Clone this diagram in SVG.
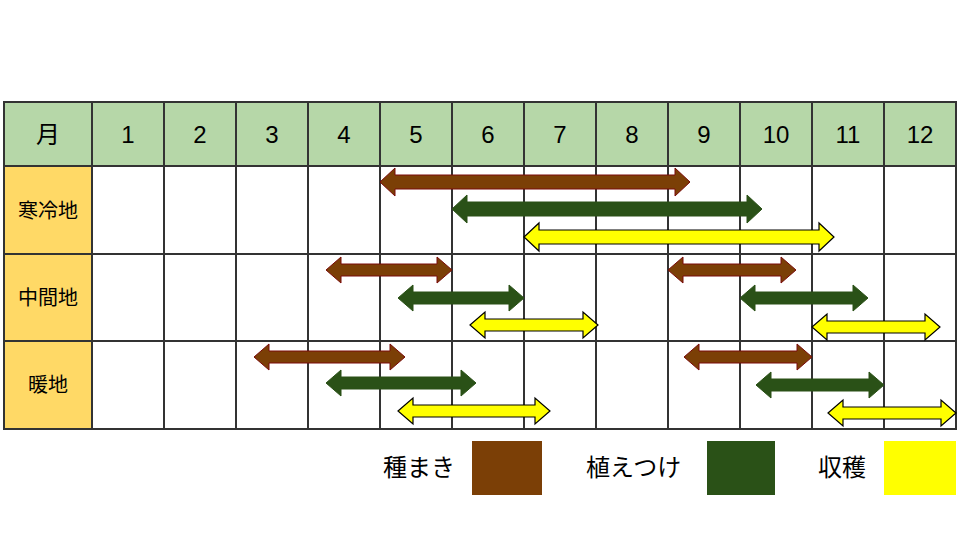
<svg xmlns="http://www.w3.org/2000/svg" width="960" height="540" viewBox="0 0 960 540">
<style>
text{font-family:"Liberation Sans","Noto Sans CJK JP",sans-serif;fill:#000}
.h{font-size:24px;text-anchor:middle}
.r{font-size:20px;text-anchor:middle}
.l{font-size:24px}
.g{stroke:#333;stroke-width:2;fill:none}
.b{fill:#7b3f06;stroke:#7a0a0a;stroke-width:1}
.gr{fill:#2a5117;stroke:#2a5117;stroke-width:1}
.y{fill:#ffff00;stroke:#000;stroke-width:1.2}
</style>
<defs>
<path id="a" d="M0,0 L15,-14 L15,-7 L-15,-7 Z"/>
</defs>
<g id="table">
<rect x="4" y="102" width="952" height="64" fill="#b6d7a8"/>
<rect x="4" y="166" width="88" height="263" fill="#ffd966"/>
<rect x="92" y="166" width="864" height="263" fill="#fff"/>
<path class="g" d="M4,102H956V429H4Z M4,166H956 M4,254H956 M4,341H956 M92,102V429 M164,102V429 M236,102V429 M308,102V429 M380,102V429 M452,102V429 M524,102V429 M596,102V429 M668,102V429 M740,102V429 M812,102V429 M884,102V429"/>
<text class="h" x="48" y="143">月</text>
<text class="h" x="128" y="143">1</text><text class="h" x="200" y="143">2</text><text class="h" x="272" y="143">3</text><text class="h" x="344" y="143">4</text><text class="h" x="416" y="143">5</text><text class="h" x="488" y="143">6</text><text class="h" x="560" y="143">7</text><text class="h" x="632" y="143">8</text><text class="h" x="704" y="143">9</text><text class="h" x="776" y="143">10</text><text class="h" x="848" y="143">11</text><text class="h" x="920" y="143">12</text>
<text class="r" x="48" y="218">寒冷地</text>
<text class="r" x="48" y="305">中間地</text>
<text class="r" x="48" y="392">暖地</text>
</g>
<g id="arrows">
<path class="b" d="M380,182 L395,168 L395,175 L675,175 L675,168 L690,182 L675,196 L675,189 L395,189 L395,196 Z"/>
<path class="gr" d="M452,209 L467,195 L467,202 L747,202 L747,195 L762,209 L747,223 L747,216 L467,216 L467,223 Z"/>
<path class="y" d="M524,237 L539,223 L539,230 L819,230 L819,223 L834,237 L819,251 L819,244 L539,244 L539,251 Z"/>
<path class="b" d="M326,270 L341,257 L341,264 L437,264 L437,257 L452,270 L437,283 L437,276 L341,276 L341,283 Z"/>
<path class="gr" d="M398,298 L413,285 L413,292 L509,292 L509,285 L524,298 L509,311 L509,304 L413,304 L413,311 Z"/>
<path class="y" d="M470,325 L485,312 L485,319 L583,319 L583,312 L598,325 L583,338 L583,331 L485,331 L485,338 Z"/>
<path class="b" d="M668,270 L683,257 L683,264 L781,264 L781,257 L796,270 L781,283 L781,276 L683,276 L683,283 Z"/>
<path class="gr" d="M740,298 L755,285 L755,292 L853,292 L853,285 L868,298 L853,311 L853,304 L755,304 L755,311 Z"/>
<path class="y" d="M812,327 L827,314 L827,321 L925,321 L925,314 L940,327 L925,340 L925,333 L827,333 L827,340 Z"/>
<path class="b" d="M254,357 L269,344 L269,351 L390,351 L390,344 L405,357 L390,370 L390,363 L269,363 L269,370 Z"/>
<path class="gr" d="M326,383 L341,370 L341,377 L461,377 L461,370 L476,383 L461,396 L461,389 L341,389 L341,396 Z"/>
<path class="y" d="M398,411 L413,398 L413,405 L535,405 L535,398 L550,411 L535,424 L535,417 L413,417 L413,424 Z"/>
<path class="b" d="M684,357 L699,344 L699,351 L797,351 L797,344 L812,357 L797,370 L797,363 L699,363 L699,370 Z"/>
<path class="gr" d="M756,385 L771,372 L771,379 L869,379 L869,372 L884,385 L869,398 L869,391 L771,391 L771,398 Z"/>
<path class="y" d="M828,413 L843,400 L843,407 L941,407 L941,400 L956,413 L941,426 L941,419 L843,419 L843,426 Z"/>
</g>
<g id="legend">
<text class="l" x="383" y="476">種まき</text>
<rect x="472" y="441" width="70" height="54" fill="#7b3f06"/>
<text class="l" x="586" y="476">植えつけ</text>
<rect x="707" y="441" width="68" height="54" fill="#2a5117"/>
<text class="l" x="818" y="476">収穫</text>
<rect x="884" y="441" width="72" height="54" fill="#ffff00"/>
</g>
</svg>
